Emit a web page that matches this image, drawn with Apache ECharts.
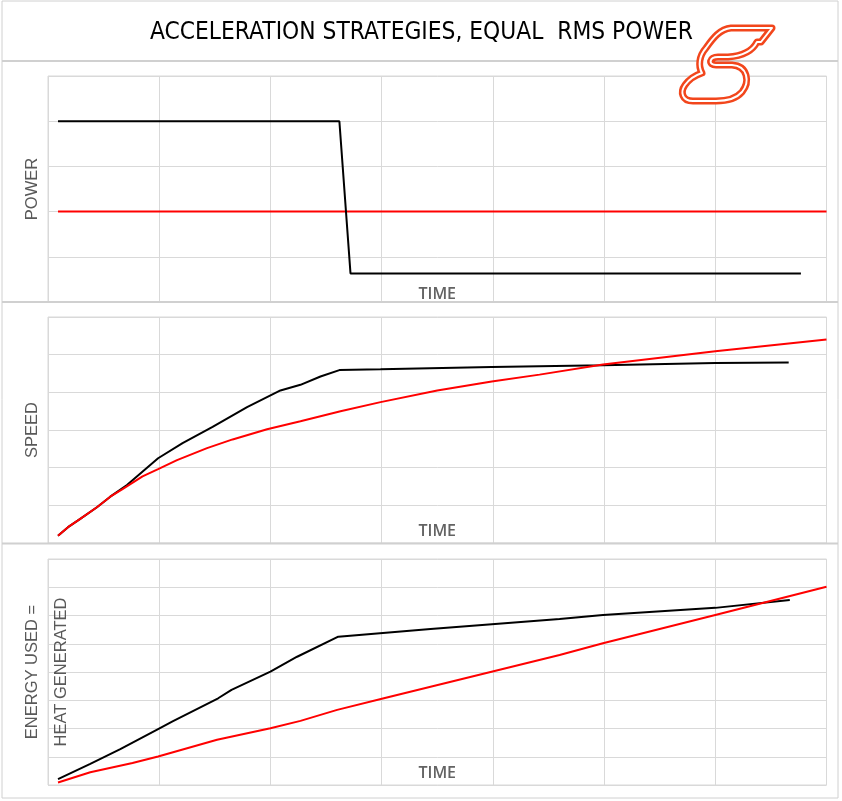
<!DOCTYPE html>
<html>
<head>
<meta charset="utf-8">
<title>Acceleration strategies</title>
<script src="https://cdn.jsdelivr.net/npm/echarts@6/dist/echarts.min.js"></script>
<style>
  html, body { margin: 0; padding: 0; background: #fff; }
  #chart { width: 842px; height: 801px; }
</style>
</head>
<body>
<div id="chart"></div>
<script>
// time axis runs 0..7 grid columns
var powerFast = [[0.09, 4], [2.62, 4], [2.72, 0.63], [6.77, 0.63]];
var powerEven = [[0.09, 2], [7, 2]];

var speedFast = [
  [0.09, 0.19], [0.18, 0.42], [0.29, 0.64], [0.44, 0.95], [0.56, 1.23],
  [0.71, 1.54], [0.99, 2.25], [1.21, 2.65], [1.48, 3.08], [1.79, 3.61],
  [2.09, 4.05], [2.27, 4.2], [2.45, 4.42], [2.62, 4.59], [2.99, 4.61],
  [3.99, 4.67], [4.99, 4.72], [6.0, 4.78], [6.66, 4.79]
];
var speedEven = [
  [0.09, 0.19], [0.18, 0.42], [0.29, 0.64], [0.44, 0.95], [0.56, 1.23],
  [0.67, 1.43], [0.85, 1.77], [0.99, 1.96], [1.16, 2.2], [1.43, 2.52],
  [1.66, 2.75], [1.97, 3.02], [2.27, 3.23], [2.63, 3.5], [2.99, 3.74],
  [3.5, 4.05], [3.99, 4.29], [4.42, 4.47], [4.99, 4.74], [6.0, 5.09], [7.0, 5.4]
];

var energyFast = [
  [0.09, 0.21], [0.38, 0.75], [0.65, 1.27], [0.99, 1.98], [1.12, 2.25],
  [1.53, 3.07], [1.65, 3.37], [2.0, 4.01], [2.24, 4.54], [2.61, 5.25],
  [3.44, 5.52], [4.6, 5.88], [4.99, 6.02], [6.0, 6.27], [6.67, 6.55]
];
var energyEven = [
  [0.09, 0.09], [0.38, 0.45], [0.76, 0.78], [0.99, 1.01], [1.52, 1.6],
  [2.0, 2.01], [2.27, 2.27], [2.6, 2.66], [3.02, 3.07], [3.44, 3.48],
  [4.6, 4.6], [4.99, 5.02], [6.0, 6.02], [7.0, 7.02]
];

var yMax = [5, 6, 8];
var titleText = 'ACCELERATION STRATEGIES, EQUAL  RMS POWER';
var yNames = ['POWER', 'SPEED', 'ENERGY USED ='];

var gridColor = '#d9d9d9';
var labelColor = '#595959';

function xAxisFor (i, gap) {
  return {
    type: 'value', gridIndex: i, min: 0, max: 7, interval: 1,
    name: 'TIME', nameLocation: 'middle', nameGap: gap,
    nameTextStyle: { color: '#636363', fontFamily: 'Open Sans', fontSize: 16, fontWeight: 600 },
    axisLine: { show: false }, axisTick: { show: false }, axisLabel: { show: false },
    splitLine: { lineStyle: { color: gridColor } }
  }
}

function yAxisFor (i) {
  return {
    type: 'value', gridIndex: i, min: 0, max: yMax[i], interval: 1, position: 'left',
    name: yNames[i], nameLocation: 'middle', nameGap: 7, nameRotate: 90,
    nameTextStyle: { color: labelColor, fontFamily: 'Liberation Sans', fontSize: 16.5 },
    axisLine: { show: false }, axisTick: { show: false }, axisLabel: { show: false },
    splitLine: { lineStyle: { color: gridColor } }
  }
}

function line (name, data, i, color) {
  return {
    name: name, type: 'line', xAxisIndex: i, yAxisIndex: i, data: data,
    showSymbol: false, symbol: 'none', animation: false,
    lineStyle: { color: color, width: 2 }
  }
}

var chart = echarts.init(document.getElementById('chart'))

var heatAxis = yAxisFor(2)
heatAxis.name = 'HEAT GENERATED'
heatAxis.nameGap = -22
heatAxis.splitLine = { show: false }

// squeeze the title to the narrow width it has in the picture
var titleFont = '24px "DejaVu Sans"'
var ctx = document.createElement('canvas').getContext('2d')
ctx.font = titleFont
var titleScale = 543 / ctx.measureText(titleText).width

// logo outline, drawn as a small svg picture
var logoPath = 'M 58 8 L 99 8 L 88 22 L 84 22 C 79 32 69 36 55 37 L 45 37 ' +
  'C 36 37 35 45 43 45 L 59 45 C 75 46 77 62 69 72 C 63 79 55 81 43 81 ' +
  'L 20 81 C 9 81 7 72 12 65 C 17 58 23 55 29 53 C 25 46 26 36 33 28 ' +
  'C 40 18 47 9 58 8 Z'
var logoSvg = '<svg xmlns="http://www.w3.org/2000/svg" width="110" height="90" viewBox="0 0 110 90">' +
  '<path d="' + logoPath + '" fill="#fff" stroke="#f2461c" stroke-width="7" stroke-linejoin="round"/>' +
  '<path d="' + logoPath + '" fill="none" stroke="#fff" stroke-width="2" stroke-linejoin="round"/>' +
  '</svg>'

chart.setOption({
  backgroundColor: '#fff',
  animation: false,
  grid: [
    { left: 48, right: 15.5, top: 76, height: 226, show: true, borderColor: gridColor, borderWidth: 1 },
    { left: 48, right: 15.5, top: 317, height: 226, show: true, borderColor: gridColor, borderWidth: 1 },
    { left: 48, right: 15.5, top: 559, height: 226, show: true, borderColor: gridColor, borderWidth: 1 }
  ],
  xAxis: [xAxisFor(0, -16), xAxisFor(1, -20), xAxisFor(2, -20)],
  yAxis: [yAxisFor(0), yAxisFor(1), yAxisFor(2), heatAxis],
  series: [
    line('even', powerEven, 0, '#ff0000'),
    line('fast', powerFast, 0, '#000000'),
    line('fast', speedFast, 1, '#000000'),
    line('even', speedEven, 1, '#ff0000'),
    line('fast', energyFast, 2, '#000000'),
    line('even', energyEven, 2, '#ff0000')
  ],
  graphic: [
    { type: 'rect', z: 100, shape: { x: 2, y: 1, width: 836, height: 797 },
      style: { fill: null, stroke: '#d0d0d0', lineWidth: 1 } },
    { type: 'line', z: 100, shape: { x1: 2, y1: 61, x2: 838, y2: 61 }, style: { stroke: '#d0d0d0', lineWidth: 2 } },
    { type: 'line', z: 100, shape: { x1: 2, y1: 302, x2: 838, y2: 302 }, style: { stroke: '#d0d0d0', lineWidth: 2 } },
    { type: 'line', z: 100, shape: { x1: 2, y1: 543.5, x2: 838, y2: 543.5 }, style: { stroke: '#d0d0d0', lineWidth: 2 } },
    { type: 'text', z: 105, x: 421.5, y: 33, scaleX: titleScale,
      style: { text: titleText, font: titleFont, fill: '#000', align: 'center', verticalAlign: 'middle' } },
    { type: 'image', z: 110, x: 673, y: 20,
      style: { image: 'data:image/svg+xml;charset=utf-8,' + encodeURIComponent(logoSvg), width: 110, height: 90 } }
  ]
})
</script>
</body>
</html>
